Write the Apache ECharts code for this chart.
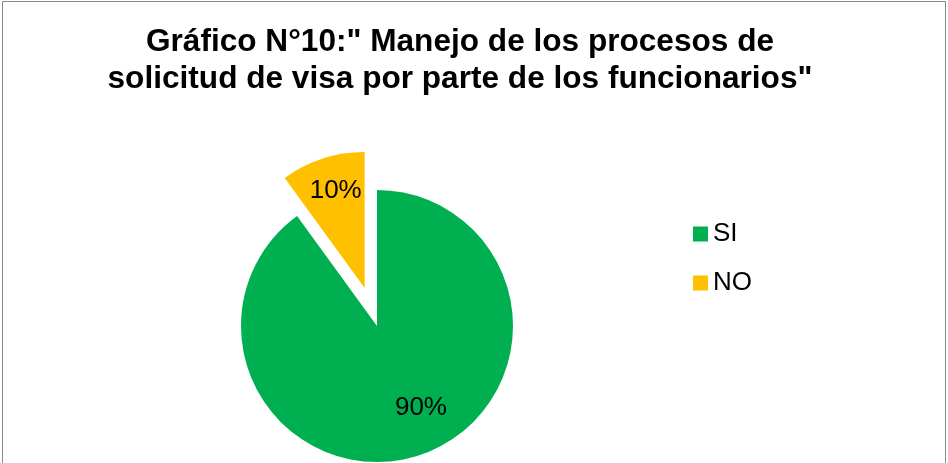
<!DOCTYPE html>
<html>
<head>
<meta charset="utf-8">
<script src="https://cdn.jsdelivr.net/npm/echarts@6/dist/echarts.min.js"></script>
<style>
html,body{margin:0;padding:0;background:#fff;}
#c{width:948px;height:463px;}
</style>
</head>
<body>
<div id="c"></div>
<script>
const categories = ["SI", "NO"];
const values = [90, 10];
const colors = ["#00B050", "#FFC000"];
const titleText = 'Gráfico N°10:" Manejo de los procesos de\nsolicitud de visa por parte de los funcionarios"';

const chart = echarts.init(document.getElementById('c'));
const labelShift = [[22, 14], [-7, -30]];
chart.setOption({
  animation: false,
  title: {
    text: titleText,
    left: 455,
    top: 19,
    textAlign: 'center',
    textStyle: {
      fontFamily: 'Liberation Sans, Arial, sans-serif',
      fontSize: 31.6,
      fontWeight: 'bold',
      color: '#000',
      lineHeight: 37,
      align: 'center'
    }
  },
  graphic: [{
    type: 'rect',
    shape: {x: 2.5, y: 1.5, width: 943, height: 480},
    style: {fill: 'none', stroke: '#8a8a8a', lineWidth: 1},
    silent: true
  }],
  legend: {
    orient: 'vertical',
    left: 688,
    top: 216,
    itemWidth: 15,
    itemHeight: 15,
    itemGap: 23,
    icon: 'rect',
    data: categories,
    textStyle: {fontFamily: 'Liberation Sans, Arial, sans-serif', fontSize: 26, color: '#000'}
  },
  series: [{
    type: 'pie',
    center: [377, 326],
    radius: 136,
    startAngle: 90,
    clockwise: true,
    selectedMode: 'multiple',
    selectedOffset: 40,
    label: {
      show: true,
      position: 'inside',
      formatter: '{d}%',
      fontFamily: 'Liberation Sans, Arial, sans-serif',
      fontSize: 26,
      color: '#000'
    },
    labelLine: {show: false},
    labelLayout: function (p) {
      return {dx: labelShift[p.dataIndex][0], dy: labelShift[p.dataIndex][1]};
    },
    emphasis: {disabled: true},
    data: categories.map((c, i) => ({
      name: c,
      value: values[i],
      selected: i === 1,
      itemStyle: {color: colors[i]}
    }))
  }]
});
</script>
</body>
</html>
